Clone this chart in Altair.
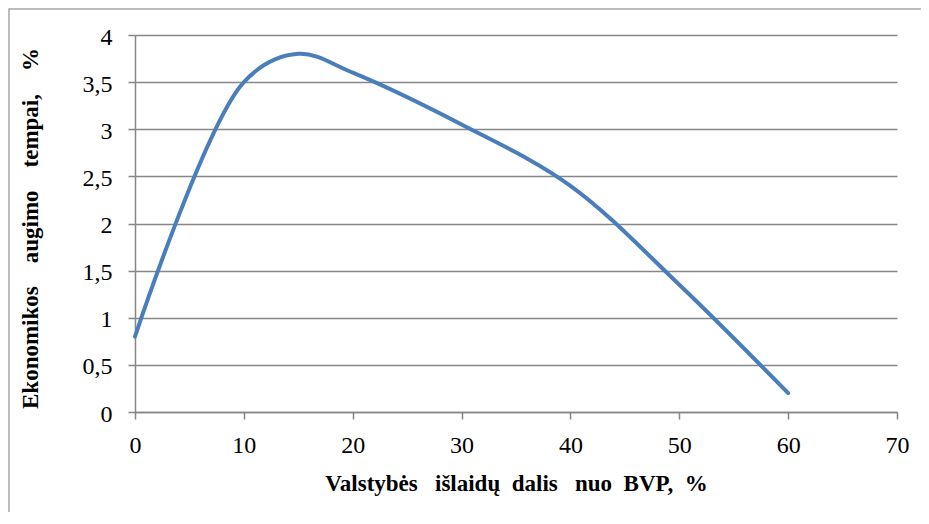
import altair as alt
import pandas as pd

x_vals = [0, 10, 15, 20, 30, 40, 50, 60]
y_vals = [0.8, 3.5, 3.8, 3.6, 3.05, 2.4, 1.35, 0.2]

df = pd.DataFrame({"x": x_vals, "y": y_vals})

FONT = "Liberation Serif"
GRAY = "#868686"
NB = "\u00a0"

x_title = ("Valstybės" + NB * 3 + "išlaidų" + NB * 2 + "dalis" + NB * 3 + "nuo"
           + NB * 2 + "BVP," + NB * 2 + "%")
y_title = "Ekonomikos" + NB * 4 + "augimo" + NB * 4 + "tempai," + NB * 4 + "%"

line = alt.Chart(df).mark_line(
    interpolate="catmull-rom", strokeWidth=4, color="#4a7ebb", strokeCap="round"
).encode(
    x=alt.X("x:Q", scale=alt.Scale(domain=[0, 70], nice=False),
            axis=alt.Axis(values=list(range(0, 71, 10)), grid=False,
                          labelFlush=False, labelPadding=14,
                          title=x_title,
                          titleX=381, titleY=71, titleBaseline="middle",
                          titleAlign="center")),
    y=alt.Y("y:Q", scale=alt.Scale(domain=[0, 4], nice=False),
            axis=alt.Axis(values=[i * 0.5 for i in range(9)], grid=True,
                          labelPadding=16, labelFlush=False, labelOffset=2,
                          labelExpr="replace(toString(datum.value), '.', ',')",
                          title=y_title,
                          titleX=-105, titleY=193, titleAngle=-90,
                          titleBaseline="middle", titleAlign="center")),
)

frame = alt.Chart(pd.DataFrame({"a": [0]})).mark_rect(
    fill=None, stroke="#a6a6a6", strokeWidth=1.5
).encode(
    x=alt.value(-126), x2=alt.value(900), y=alt.value(-26), y2=alt.value(600)
)

chart = alt.layer(frame, line).properties(
    width=762, height=377,
    autosize=alt.AutoSizeParams(type="none"),
    padding={"left": 127, "top": 27, "right": 24, "bottom": 100},
).configure_view(stroke=None).configure_axis(
    domainColor=GRAY, gridColor=GRAY, tickColor=GRAY, tickSize=7,
    domainWidth=1.5, gridWidth=1.5, tickWidth=1.5,
    labelFont=FONT, labelFontSize=24, labelColor="#000000",
    titleFont=FONT, titleFontSize=23, titleFontWeight="bold", titleColor="#000000",
)

chart.save("out.html", embed_options={"renderer": "svg", "actions": False})
